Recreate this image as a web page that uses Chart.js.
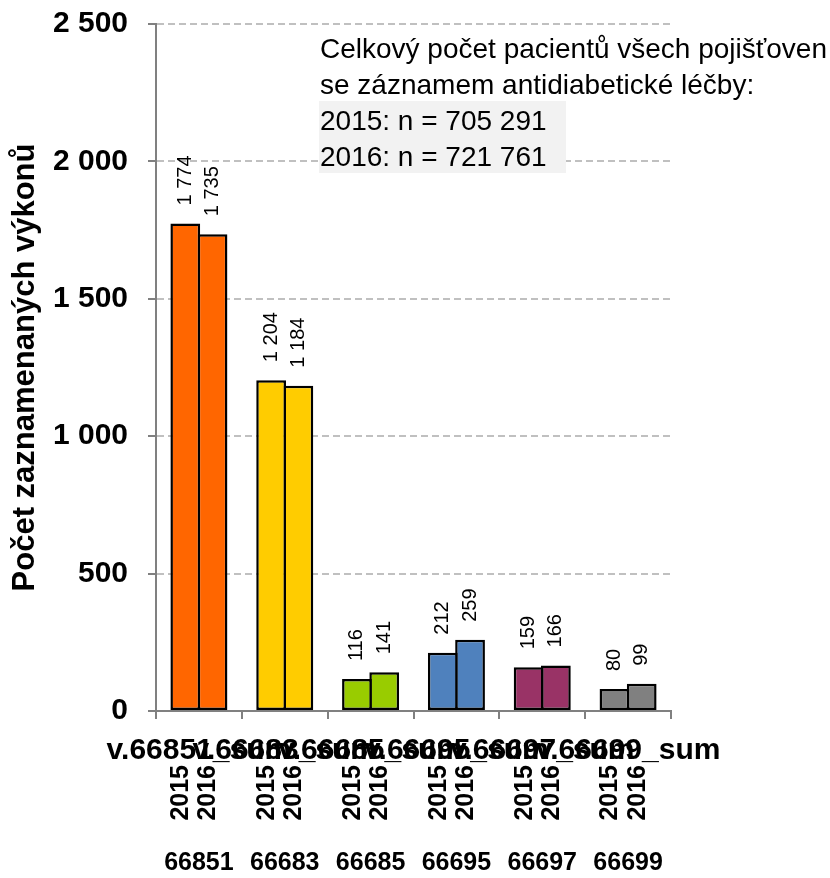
<!DOCTYPE html>
<html>
<head>
<meta charset="utf-8">
<script src="https://cdn.jsdelivr.net/npm/chart.js@4/dist/chart.umd.min.js"></script>
<style>
  html, body { margin: 0; padding: 0; background: #ffffff; }
  #wrap { width: 830px; height: 878px; }
</style>
</head>
<body>
<div id="wrap"><canvas id="chart" width="830" height="878"></canvas></div>
<script>
// Procedure codes and the axis labels built for them
const codes = ['66851', '66683', '66685', '66695', '66697', '66699'];
const categoryLabels = ['v.66851_sum', 'v.66683_sum', 'v.66685_sum', 'v.66695_sum', 'v.66697_sum', 'v.66699_sum'];
const years = ['2015', '2016'];

// Number of recorded procedures per code and year
const values2015 = [1774, 1204, 116, 212, 159, 80];
const values2016 = [1735, 1184, 141, 259, 166, 99];

// One fill colour per procedure code
const barColors = ['#FF6600', '#FFCC00', '#99CC00', '#4F81BD', '#993366', '#808080'];

// Value axis ticks
const yTicks = [0, 500, 1000, 1500, 2000, 2500];

// Texts
const yTitle = 'Počet zaznamenaných výkonů';
const noteLines = ['Celkový počet pacientů všech pojišťoven', 'se záznamem antidiabetické léčby:'];
const noteCounts = ['2015: n = 705 291', '2016: n = 721 761'];

const FONT = "'Liberation Sans', Arial, Helvetica, sans-serif";
const fmt = v => String(v).replace(/\B(?=(\d{3})+(?!\d))/g, ' ');

// Value labels above bars, year labels under bars, code row and the info box
const extras = {
  id: 'extras',
  afterDatasetsDraw(chart) {
    const ctx = chart.ctx;
    chart.data.datasets.forEach((ds, di) => {
      const meta = chart.getDatasetMeta(di);
      meta.data.forEach((bar, i) => {
        ctx.save();
        ctx.translate(bar.x, bar.y - 18);
        ctx.rotate(-Math.PI / 2);
        ctx.font = '20px ' + FONT;
        ctx.fillStyle = '#000';
        ctx.textAlign = 'left';
        ctx.textBaseline = 'middle';
        ctx.fillText(fmt(ds.data[i]), 0, 0);
        ctx.restore();
      });
    });
  },
  afterDraw(chart) {
    const ctx = chart.ctx;
    // year under every bar, reading upwards
    chart.data.datasets.forEach((ds, di) => {
      const meta = chart.getDatasetMeta(di);
      meta.data.forEach(bar => {
        ctx.save();
        ctx.translate(bar.x - 4, 765);
        ctx.rotate(-Math.PI / 2);
        ctx.font = 'bold 25px ' + FONT;
        ctx.fillStyle = '#000';
        ctx.textAlign = 'right';
        ctx.textBaseline = 'middle';
        ctx.fillText(ds.label, 0, 0);
        ctx.restore();
      });
    });
    // procedure codes
    const xs = chart.scales.x;
    ctx.save();
    ctx.font = 'bold 25px ' + FONT;
    ctx.fillStyle = '#000';
    ctx.textAlign = 'center';
    ctx.textBaseline = 'alphabetic';
    codes.forEach((c, i) => ctx.fillText(c, xs.getPixelForValue(i), 870));
    ctx.restore();

    // info box
    ctx.save();
    ctx.fillStyle = '#f2f2f2';
    ctx.fillRect(319, 101, 247, 72);
    ctx.font = '28px ' + FONT;
    ctx.fillStyle = '#000';
    ctx.textAlign = 'left';
    ctx.textBaseline = 'alphabetic';
    ctx.fillText(noteLines[0], 320, 58);
    ctx.fillText(noteLines[1], 320, 94);
    ctx.fillText(noteCounts[0], 320, 130);
    ctx.fillText(noteCounts[1], 320, 166);
    ctx.restore();
  }
};

const barStyle = {
  borderColor: '#000000',
  borderWidth: 2.5,
  borderSkipped: false,
  categoryPercentage: 0.635,
  barPercentage: 1.092,
  backgroundColor: barColors
};

new Chart(document.getElementById('chart'), {
  type: 'bar',
  data: {
    labels: categoryLabels,
    datasets: [
      Object.assign({ label: years[0], data: values2015 }, barStyle),
      Object.assign({ label: years[1], data: values2016 }, barStyle)
    ]
  },
  options: {
    responsive: false,
    animation: false,
    devicePixelRatio: 1,
    layout: { padding: { top: 24, right: 159, left: 0, bottom: 0 } },
    plugins: { legend: { display: false }, tooltip: { enabled: false } },
    scales: {
      x: {
        offset: true,
        grid: { display: true, offset: true, drawOnChartArea: false, tickLength: 8,
                color: '#808080', tickColor: '#808080', lineWidth: 2, tickWidth: 2 },
        border: { color: '#808080', width: 2 },
        ticks: { font: { family: FONT, size: 30, weight: 'bold' }, color: '#000',
                 maxRotation: 0, minRotation: 0, autoSkip: false, padding: 14 },
        afterFit: s => { s.height = 167; s.paddingLeft = 0; s.paddingRight = 0; }
      },
      y: {
        min: 0, max: 2500,
        afterBuildTicks: s => { s.ticks = yTicks.map(v => ({ value: v })); },
        grid: {
          color: c => (c.tick && c.tick.value === 0) ? 'rgba(0,0,0,0)' : '#c0c0c0',
          tickColor: '#808080', tickLength: 8, lineWidth: 2, tickWidth: 2
        },
        border: { color: '#808080', width: 2, dash: [7, 4] },
        ticks: { font: { family: FONT, size: 30, weight: 'bold' }, color: '#000',
                 padding: 20, callback: v => fmt(v) },
        title: { display: true, text: yTitle, color: '#000',
                 font: { family: FONT, size: 31, weight: 'bold' }, padding: { top: 7, bottom: 0 } },
        afterFit: s => { s.width = 156; s.paddingTop = 0; s.paddingBottom = 0; }
      }
    }
  },
  plugins: [extras]
});
</script>
</body>
</html>
